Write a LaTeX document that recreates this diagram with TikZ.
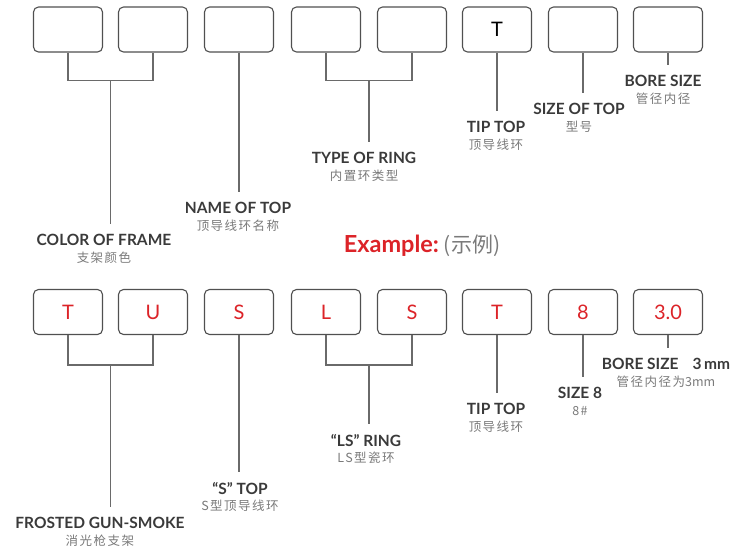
\documentclass[tikz,border=0pt]{standalone}
\usepackage{fontspec}
\setmainfont{Lato}
\newfontfamily\cjk[LetterSpace=12]{Noto Sans CJK SC}
\newfontfamily\cjkplain{Noto Sans CJK SC}
\usetikzlibrary{calc,positioning}
\definecolor{CodeInk}{HTML}{3A3A3A}
\definecolor{CodeFrame}{HTML}{505050}
\definecolor{CodeWire}{HTML}{6A6A6A}
\definecolor{CodeMuted}{HTML}{7A7A7A}
\definecolor{CodeRed}{HTML}{DC2328}
\newcommand\zh[1]{{\cjk\mdseries\fontsize{12.5}{16.5}\selectfont\color{CodeMuted}#1}}
\tikzset{
  code/box/.style={
    draw=CodeFrame, line width=1.1pt, rounded corners=5pt, fill=white,
    minimum width=69pt, minimum height=45pt, inner sep=0pt,
    font=\fontsize{20}{20}\selectfont
  },
  code/wire/.style={draw=CodeWire, line width=1.3pt},
  code/lead/.style={code/wire, shorten >=10pt},
  code/label/.style={
    anchor=north, inner sep=0pt, align=center, text=CodeInk,
    font=\fontsize{15.5}{16.5}\selectfont\bfseries
  }
}

\begin{document}
\begin{tikzpicture}[x=1pt,y=-1pt]
  \useasboundingbox (0,0) rectangle (737,550);
  % code legend
  \foreach \x/\name/\txt in {68/1/,153/2/,239/3/,326/4/,412/5/,497/6/T,583/7/,668/8/}
    \node[code/box,text=black] (t\name) at (\x,29.5) {\txt};
  \coordinate (tj1) at ($(t1.south)!.5!(t2.south)+(0,28)$);
  \coordinate (tj2) at ($(t4.south)!.5!(t5.south)+(0,28)$);
  \node[code/label] (tl1) at (104,234) {COLOR OF FRAME\\\zh{支架颜色}};
  \node[code/label] (tl2) at (238,202) {NAME OF TOP\\\zh{顶导线环名称}};
  \node[code/label] (tl3) at (364,152) {TYPE OF RING\\\zh{内置环类型}};
  \node[code/label] (tl4) at (496,121) {TIP TOP\\\zh{顶导线环}};
  \node[code/label] (tl5) at (579,103) {SIZE OF TOP\\\zh{型号}};
  \node[code/label] (tl6) at (663,75) {BORE SIZE\\\zh{管径内径}};
  \draw[code/wire] (t1.south) |- (tj1) -| (t2.south);
  \draw[code/lead] (tj1) -- (tj1 |- tl1.north);
  \draw[code/lead] (t3.south) -- (t3.south |- tl2.north);
  \draw[code/wire] (t4.south) |- (tj2) -| (t5.south);
  \draw[code/lead] (tj2) -- (tj2 |- tl3.north);
  \draw[code/lead] (t6.south) -- (t6.south |- tl4.north);
  \draw[code/lead] (t7.south) -- (t7.south |- tl5.north);
  \draw[code/lead] (t8.south) -- (t8.south |- tl6.north);

  \node (ex) at (422,246)
    {{\fontsize{23.5}{24}\selectfont\bfseries\color{CodeRed}Example:}\hspace{5pt}{\cjkplain\fontsize{21}{21}\selectfont\color{CodeMuted}(示例)}};

  % example
  \foreach \x/\name/\txt in {68/1/T,153/2/U,239/3/S,326/4/L,412/5/S,497/6/T,583/7/8,668/8/3.0}
    \node[code/box,text=CodeRed] (e\name) at (\x,312) {\txt};
  \coordinate (ej1) at ($(e1.south)!.5!(e2.south)+(0,30)$);
  \coordinate (ej2) at ($(e4.south)!.5!(e5.south)+(0,30)$);
  \node[code/label] (el1) at (100,517) {FROSTED GUN-SMOKE\\\zh{消光枪支架}};
  \node[code/label] (el2) at (240,482) {“S” TOP\\\zh{S型顶导线环}};
  \node[code/label] (el3) at (366,434) {“LS” RING\\\zh{LS型瓷环}};
  \node[code/label] (el4) at (496,403) {TIP TOP\\\zh{顶导线环}};
  \node[code/label] (el5) at (580,387) {SIZE 8\\\zh{8\#}};
  \node[code/label] (el6) at (666,358) {BORE SIZE\hspace{14pt}3\,mm\\\zh{管径内径为{\cjkplain 3mm}}};
  \draw[code/wire] (e1.south) |- (ej1) -| (e2.south);
  \draw[code/lead] (ej1) -- (ej1 |- el1.north);
  \draw[code/lead] (e3.south) -- (e3.south |- el2.north);
  \draw[code/wire] (e4.south) |- (ej2) -| (e5.south);
  \draw[code/lead] (ej2) -- (ej2 |- el3.north);
  \draw[code/lead] (e6.south) -- (e6.south |- el4.north);
  \draw[code/lead] (e7.south) -- (e7.south |- el5.north);
  \draw[code/lead] (e8.south) -- (e8.south |- el6.north);
\end{tikzpicture}
\end{document}
